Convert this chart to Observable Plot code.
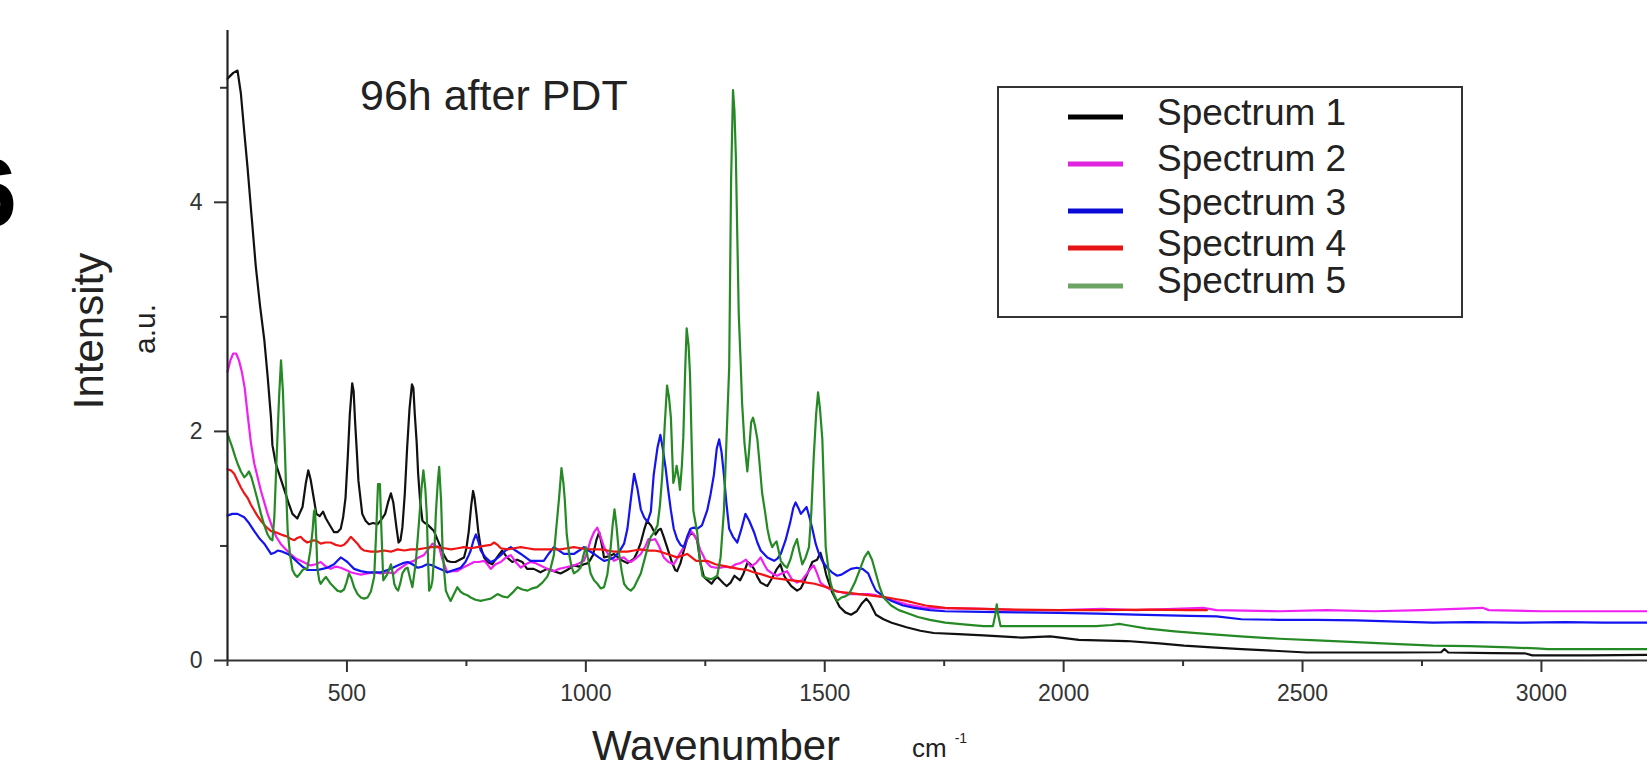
<!DOCTYPE html>
<html>
<head>
<meta charset="utf-8">
<script src="https://cdn.jsdelivr.net/npm/d3@7"></script>
<script src="https://cdn.jsdelivr.net/npm/@observablehq/plot@0.6"></script>
<style>
  html, body { margin: 0; padding: 0; background: #fff; }
  #wrap { position: relative; width: 1647px; height: 770px; overflow: hidden; }
</style>
</head>
<body>
<div id="wrap"></div>
<script>
// ---- tick values ----
const xMajorTicks = [500, 1000, 1500, 2000, 2500, 3000];
const xMinorTicks = [250, 750, 1250, 1750, 2250, 2750];
const yMajorTicks = [0, 2, 4];
const yMinorTicks = [1, 3, 5];

// ---- series labels & colours ----
const seriesNames = ["Spectrum 1", "Spectrum 2", "Spectrum 3", "Spectrum 4", "Spectrum 5"];
const lineColors = ["#111111", "#f020f0", "#1414f0", "#f01414", "#258a25"];
const swatchColors = ["#000000", "#e024e0", "#0a0ad8", "#e81212", "#6aa661"];

// ---- data: [wavenumber (cm-1), intensity (a.u.)] ----
const spectrum1 = [[250,5.08],[262,5.13],[271,5.15],[278,4.95],[285,4.62],[292,4.30],[300,3.90],[309,3.45],[318,3.10],[327,2.80],[334,2.48],[341,2.12],[344,1.88],[351,1.72],[358,1.63],[365,1.54],[372,1.45],[379,1.36],[386,1.28],[396,1.24],[407,1.34],[414,1.55],[419,1.66],[424,1.58],[428,1.48],[436,1.28],[443,1.26],[450,1.30],[456,1.24],[463,1.19],[473,1.12],[480,1.12],[487,1.15],[492,1.25],[497,1.42],[502,1.80],[506,2.15],[511,2.42],[514,2.35],[517,2.09],[521,1.80],[524,1.57],[532,1.28],[539,1.22],[546,1.19],[555,1.20],[564,1.19],[572,1.23],[580,1.28],[586,1.38],[592,1.46],[597,1.38],[600,1.28],[604,1.15],[608,1.03],[612,1.05],[616,1.16],[621,1.45],[626,1.86],[631,2.20],[636,2.41],[639,2.38],[642,2.15],[646,1.90],[649,1.63],[653,1.40],[658,1.22],[663,1.20],[668,1.19],[675,1.16],[682,1.13],[689,1.06],[696,0.99],[703,0.92],[710,0.87],[718,0.86],[727,0.86],[736,0.88],[745,0.90],[750,0.98],[755,1.13],[760,1.35],[764,1.48],[767,1.42],[771,1.28],[775,1.12],[780,0.99],[787,0.90],[794,0.86],[804,0.84],[814,0.90],[825,0.96],[835,0.90],[846,0.86],[856,0.88],[867,0.86],[877,0.80],[891,0.80],[905,0.77],[919,0.80],[933,0.78],[947,0.76],[961,0.79],[975,0.83],[986,0.82],[996,0.84],[1005,0.85],[1015,0.92],[1022,1.05],[1028,1.12],[1034,1.00],[1038,0.90],[1048,0.91],[1059,0.93],[1073,0.88],[1087,0.85],[1101,0.89],[1108,0.95],[1115,1.03],[1122,1.14],[1128,1.22],[1136,1.18],[1146,1.10],[1152,1.14],[1157,1.15],[1163,1.08],[1170,0.99],[1180,0.86],[1187,0.79],[1191,0.78],[1198,0.85],[1205,0.96],[1212,1.06],[1219,1.11],[1226,1.10],[1233,1.05],[1240,0.85],[1247,0.73],[1255,0.70],[1263,0.67],[1270,0.71],[1275,0.73],[1282,0.70],[1289,0.67],[1295,0.65],[1303,0.68],[1311,0.74],[1317,0.72],[1323,0.70],[1330,0.76],[1339,0.86],[1345,0.84],[1352,0.80],[1359,0.73],[1366,0.68],[1375,0.66],[1380,0.65],[1390,0.72],[1400,0.80],[1407,0.84],[1415,0.74],[1421,0.70],[1430,0.65],[1442,0.61],[1450,0.63],[1456,0.68],[1465,0.77],[1474,0.86],[1484,0.88],[1491,0.94],[1497,0.86],[1503,0.75],[1515,0.60],[1531,0.47],[1543,0.42],[1555,0.40],[1567,0.43],[1578,0.50],[1587,0.54],[1595,0.50],[1607,0.40],[1623,0.36],[1640,0.33],[1671,0.29],[1700,0.26],[1728,0.24],[1780,0.23],[1832,0.22],[1912,0.20],[1972,0.21],[2032,0.18],[2132,0.17],[2200,0.15],[2252,0.13],[2310,0.115],[2372,0.10],[2440,0.085],[2508,0.07],[2600,0.07],[2700,0.07],[2790,0.072],[2797,0.10],[2805,0.07],[2900,0.065],[2965,0.063],[2981,0.045],[3100,0.045],[3222,0.05]];

const spectrum2 = [[250,2.52],[256,2.62],[262,2.68],[268,2.68],[274,2.62],[280,2.52],[286,2.38],[292,2.15],[299,1.90],[306,1.72],[313,1.60],[320,1.48],[327,1.38],[334,1.28],[344,1.16],[352,1.08],[361,1.02],[372,0.97],[382,0.93],[393,0.89],[403,0.87],[414,0.85],[424,0.83],[435,0.84],[445,0.86],[456,0.82],[466,0.80],[477,0.82],[487,0.81],[498,0.79],[508,0.77],[518,0.76],[529,0.75],[543,0.76],[557,0.77],[571,0.76],[585,0.77],[599,0.76],[606,0.79],[613,0.81],[627,0.85],[640,0.87],[650,0.90],[661,0.92],[670,0.97],[679,1.02],[686,1.00],[693,0.99],[700,0.88],[710,0.77],[720,0.78],[731,0.78],[742,0.81],[752,0.83],[766,0.86],[776,0.86],[787,0.87],[794,0.84],[801,0.80],[811,0.84],[822,0.86],[833,0.90],[843,0.92],[853,0.86],[864,0.81],[874,0.84],[884,0.86],[895,0.85],[905,0.83],[919,0.80],[933,0.78],[944,0.80],[954,0.81],[965,0.82],[975,0.83],[986,0.85],[996,0.87],[1003,0.95],[1010,1.05],[1017,1.12],[1024,1.16],[1031,1.08],[1038,0.99],[1048,0.92],[1059,0.87],[1069,0.89],[1080,0.90],[1087,0.87],[1094,0.86],[1104,0.89],[1115,0.93],[1125,1.00],[1131,1.06],[1136,1.05],[1145,1.06],[1153,1.00],[1163,0.90],[1173,0.86],[1184,0.84],[1195,0.92],[1205,0.99],[1214,1.08],[1220,1.13],[1226,1.10],[1233,1.05],[1240,0.96],[1244,0.93],[1252,0.86],[1261,0.82],[1272,0.81],[1282,0.81],[1293,0.82],[1303,0.81],[1314,0.84],[1324,0.85],[1335,0.88],[1345,0.82],[1356,0.85],[1366,0.90],[1373,0.84],[1380,0.79],[1390,0.76],[1400,0.74],[1410,0.76],[1421,0.78],[1431,0.71],[1442,0.68],[1452,0.70],[1463,0.76],[1470,0.80],[1477,0.83],[1484,0.76],[1491,0.68],[1500,0.65],[1512,0.62],[1531,0.60],[1551,0.58],[1571,0.58],[1591,0.58],[1607,0.57],[1623,0.55],[1647,0.52],[1671,0.49],[1711,0.46],[1760,0.455],[1832,0.45],[1900,0.44],[1992,0.44],[2080,0.45],[2150,0.44],[2232,0.45],[2292,0.46],[2320,0.44],[2452,0.43],[2550,0.44],[2650,0.43],[2750,0.44],[2877,0.46],[2890,0.44],[3000,0.43],[3100,0.43],[3222,0.43]];

const spectrum3 = [[250,1.265],[260,1.28],[271,1.28],[285,1.25],[295,1.20],[306,1.13],[316,1.07],[327,1.02],[341,0.93],[348,0.94],[355,0.96],[365,0.95],[376,0.93],[386,0.90],[396,0.86],[407,0.82],[417,0.79],[428,0.79],[438,0.79],[449,0.80],[459,0.81],[473,0.84],[480,0.87],[487,0.90],[494,0.88],[501,0.86],[508,0.83],[515,0.80],[529,0.78],[543,0.77],[557,0.77],[571,0.77],[585,0.79],[596,0.81],[606,0.83],[617,0.85],[627,0.86],[637,0.84],[648,0.81],[658,0.82],[668,0.84],[679,0.83],[689,0.81],[700,0.79],[710,0.77],[724,0.79],[738,0.81],[748,0.86],[755,0.92],[759,0.96],[765,1.05],[770,1.10],[775,1.04],[780,0.96],[790,0.90],[801,0.86],[811,0.88],[822,0.92],[832,0.96],[843,0.99],[853,0.96],[864,0.93],[874,0.90],[884,0.87],[898,0.87],[912,0.87],[922,0.93],[933,0.99],[944,0.96],[954,0.93],[965,0.93],[975,0.93],[986,0.96],[996,0.99],[1006,0.96],[1017,0.93],[1027,0.90],[1038,0.87],[1048,0.88],[1059,0.90],[1070,0.95],[1080,1.02],[1087,1.15],[1094,1.40],[1101,1.63],[1108,1.50],[1115,1.32],[1122,1.25],[1129,1.21],[1136,1.30],[1142,1.62],[1150,1.86],[1156,1.97],[1161,1.85],[1167,1.68],[1172,1.50],[1178,1.31],[1184,1.15],[1191,1.06],[1198,1.01],[1205,0.99],[1212,1.08],[1219,1.15],[1226,1.16],[1233,1.15],[1243,1.18],[1254,1.31],[1261,1.45],[1268,1.62],[1274,1.85],[1279,1.93],[1284,1.82],[1289,1.62],[1294,1.38],[1300,1.15],[1308,1.08],[1317,1.03],[1325,1.14],[1334,1.28],[1342,1.22],[1352,1.12],[1359,1.03],[1366,0.96],[1380,0.90],[1394,0.87],[1401,0.89],[1408,0.93],[1418,1.05],[1428,1.21],[1434,1.33],[1439,1.38],[1445,1.33],[1450,1.28],[1456,1.31],[1462,1.34],[1468,1.25],[1474,1.15],[1481,1.02],[1488,0.93],[1496,0.86],[1505,0.81],[1515,0.77],[1526,0.74],[1535,0.75],[1543,0.77],[1555,0.80],[1567,0.81],[1579,0.80],[1591,0.76],[1599,0.68],[1607,0.61],[1623,0.56],[1640,0.52],[1664,0.48],[1688,0.46],[1720,0.44],[1752,0.43],[1830,0.425],[1912,0.42],[1990,0.415],[2072,0.41],[2150,0.40],[2264,0.39],[2320,0.385],[2372,0.36],[2450,0.355],[2530,0.355],[2612,0.35],[2700,0.34],[2773,0.33],[2850,0.335],[2950,0.33],[3050,0.335],[3130,0.33],[3222,0.33]];

const spectrum4 = [[250,1.67],[257,1.66],[264,1.63],[271,1.57],[278,1.51],[285,1.46],[292,1.42],[299,1.36],[306,1.31],[313,1.26],[320,1.22],[330,1.17],[341,1.13],[351,1.12],[362,1.10],[369,1.09],[376,1.08],[383,1.06],[390,1.05],[396,1.07],[403,1.08],[410,1.05],[417,1.03],[424,1.04],[431,1.05],[438,1.04],[445,1.02],[455,1.03],[466,1.03],[476,1.01],[487,1.00],[494,1.01],[501,1.04],[508,1.08],[515,1.05],[522,1.02],[529,0.98],[536,0.96],[550,0.95],[564,0.95],[578,0.96],[592,0.95],[606,0.97],[620,0.96],[634,0.97],[648,0.97],[662,0.98],[676,0.99],[690,0.99],[704,0.98],[718,0.97],[732,0.98],[745,0.99],[759,0.98],[773,0.99],[787,1.00],[801,1.01],[808,1.03],[815,1.01],[822,0.98],[836,0.97],[850,0.98],[864,0.99],[878,0.98],[892,0.97],[905,0.97],[919,0.97],[933,0.97],[947,0.97],[961,0.98],[975,0.99],[989,0.98],[1003,0.97],[1017,0.97],[1031,0.97],[1045,0.96],[1059,0.95],[1073,0.95],[1087,0.95],[1101,0.96],[1115,0.97],[1129,0.96],[1143,0.96],[1156,0.95],[1170,0.93],[1191,0.90],[1212,0.93],[1231,0.87],[1254,0.87],[1271,0.84],[1296,0.82],[1320,0.80],[1338,0.79],[1351,0.77],[1370,0.75],[1391,0.72],[1411,0.71],[1431,0.70],[1450,0.69],[1463,0.68],[1479,0.67],[1495,0.65],[1511,0.63],[1526,0.60],[1551,0.59],[1571,0.58],[1591,0.57],[1611,0.56],[1631,0.55],[1651,0.535],[1671,0.52],[1691,0.50],[1711,0.48],[1730,0.47],[1752,0.46],[1790,0.455],[1832,0.45],[1900,0.445],[1990,0.44],[2080,0.44],[2180,0.445],[2260,0.44],[2300,0.44]];

const spectrum5 = [[250,1.98],[255,1.92],[260,1.86],[266,1.78],[271,1.72],[278,1.65],[285,1.60],[290,1.62],[295,1.65],[300,1.60],[306,1.51],[313,1.40],[320,1.28],[327,1.18],[334,1.10],[340,1.06],[344,1.05],[348,1.25],[351,1.57],[355,2.00],[358,2.30],[362,2.62],[366,2.35],[370,1.86],[373,1.45],[376,1.13],[381,0.92],[386,0.79],[391,0.75],[396,0.73],[402,0.76],[407,0.79],[412,0.80],[417,0.80],[423,0.95],[428,1.13],[431,1.30],[433,1.32],[436,1.05],[438,0.81],[442,0.70],[445,0.67],[450,0.70],[456,0.73],[461,0.70],[466,0.67],[473,0.64],[480,0.61],[487,0.60],[494,0.62],[499,0.68],[504,0.76],[509,0.72],[515,0.64],[522,0.58],[529,0.55],[536,0.54],[543,0.55],[550,0.60],[557,0.73],[561,1.10],[565,1.54],[569,1.54],[572,1.15],[576,0.70],[584,0.75],[592,0.84],[596,0.76],[599,0.67],[603,0.63],[607,0.61],[612,0.68],[616,0.76],[622,0.80],[627,0.81],[632,0.72],[637,0.64],[644,0.85],[651,1.22],[656,1.50],[660,1.66],[664,1.50],[667,1.28],[670,0.85],[672,0.61],[676,0.64],[679,0.70],[683,0.95],[686,1.28],[690,1.55],[693,1.69],[697,1.40],[700,0.99],[704,0.75],[707,0.61],[712,0.56],[717,0.52],[724,0.58],[731,0.64],[738,0.60],[745,0.58],[752,0.57],[759,0.55],[769,0.53],[780,0.52],[790,0.53],[801,0.54],[808,0.56],[815,0.58],[825,0.56],[836,0.55],[846,0.59],[857,0.64],[867,0.62],[878,0.61],[888,0.63],[898,0.64],[909,0.68],[919,0.73],[926,0.80],[933,0.92],[938,1.15],[944,1.42],[949,1.68],[953,1.55],[956,1.40],[960,1.10],[965,0.93],[970,0.82],[975,0.76],[982,0.78],[989,0.81],[995,0.92],[1000,0.99],[1005,0.88],[1010,0.76],[1017,0.70],[1024,0.67],[1031,0.63],[1038,0.64],[1045,0.75],[1052,0.99],[1056,1.18],[1060,1.32],[1064,1.18],[1069,0.95],[1075,0.78],[1080,0.67],[1087,0.63],[1094,0.61],[1101,0.64],[1108,0.70],[1115,0.76],[1122,0.87],[1129,0.98],[1136,1.08],[1143,1.12],[1150,1.18],[1155,1.35],[1160,1.62],[1165,2.05],[1170,2.40],[1174,2.30],[1178,2.12],[1183,1.55],[1187,1.62],[1190,1.70],[1194,1.60],[1197,1.49],[1201,1.70],[1204,1.95],[1208,2.55],[1211,2.90],[1215,2.75],[1218,2.50],[1222,1.80],[1225,1.31],[1233,1.12],[1238,0.90],[1244,0.74],[1252,0.72],[1261,0.71],[1268,0.72],[1275,0.74],[1282,0.90],[1289,1.31],[1295,2.00],[1300,2.56],[1304,4.19],[1308,4.98],[1311,4.80],[1314,4.40],[1317,3.70],[1320,3.03],[1324,2.60],[1327,2.25],[1332,1.90],[1338,1.65],[1342,1.85],[1346,2.08],[1350,2.12],[1354,2.05],[1359,1.93],[1364,1.70],[1369,1.46],[1375,1.30],[1380,1.15],[1385,1.05],[1390,0.99],[1395,1.02],[1399,1.04],[1404,0.95],[1408,0.87],[1415,0.83],[1421,0.81],[1428,0.88],[1435,0.99],[1442,1.06],[1447,0.95],[1453,0.84],[1460,0.90],[1467,0.99],[1472,1.30],[1477,1.78],[1482,2.15],[1486,2.34],[1490,2.20],[1495,1.93],[1499,1.40],[1502,0.99],[1507,0.82],[1512,0.68],[1519,0.58],[1526,0.52],[1535,0.55],[1543,0.56],[1551,0.58],[1563,0.68],[1575,0.81],[1583,0.90],[1591,0.95],[1599,0.88],[1607,0.76],[1615,0.64],[1623,0.55],[1639,0.48],[1655,0.44],[1675,0.41],[1695,0.38],[1720,0.355],[1752,0.33],[1790,0.315],[1832,0.30],[1852,0.30],[1857,0.40],[1860,0.49],[1863,0.40],[1868,0.30],[1930,0.30],[1992,0.30],[2068,0.30],[2100,0.31],[2116,0.32],[2130,0.31],[2172,0.28],[2232,0.255],[2292,0.235],[2370,0.21],[2452,0.19],[2530,0.175],[2612,0.16],[2690,0.145],[2773,0.13],[2850,0.125],[2933,0.115],[2990,0.105],[3013,0.10],[3100,0.10],[3222,0.10]];

const allSpectra = [spectrum1, spectrum2, spectrum3, spectrum4, spectrum5];

// ---- texts ----
const titleText = "96h after PDT";
const xTitle = "Wavenumber";
const yTitle = "Intensity";
const yUnit = "a.u.";
const xUnit = "cm";
const xUnitSup = "-1";
const panelLetter = "6";

const FONT = "'Liberation Sans', Arial, Helvetica, sans-serif";

const lineMarks = allSpectra.map((s, i) =>
  Plot.line(s, {x: d => d[0], y: d => d[1], stroke: lineColors[i], strokeWidth: 2.2, strokeLinejoin: "round"})
);

const chart = Plot.plot({
  width: 1647,
  height: 770,
  marginLeft: 227,
  marginRight: 0,
  marginTop: 30,
  marginBottom: 110,
  style: {fontFamily: FONT, fontSize: "23px", background: "white", color: "#333"},
  x: {domain: [250, 3222]},
  y: {domain: [0, 5.5]},
  marks: [
    Plot.axisX({ticks: xMajorTicks, tickSize: 12, tickPadding: 12, tickFormat: d => String(d), label: null, stroke: "#333", strokeWidth: 2, fill: "#333", fontSize: 23}),
    Plot.axisX({ticks: xMinorTicks, tickSize: 6, tickFormat: () => "", label: null, stroke: "#333", strokeWidth: 2}),
    Plot.axisY({ticks: yMajorTicks, tickSize: 13, tickPadding: 12, tickFormat: d => String(d), label: null, stroke: "#333", strokeWidth: 2, fill: "#333", fontSize: 23}),
    Plot.axisY({ticks: yMinorTicks, tickSize: 7, tickFormat: () => "", label: null, stroke: "#333", strokeWidth: 2}),
    ...lineMarks,
    Plot.ruleY([0], {stroke: "#333", strokeWidth: 2.2}),
    Plot.ruleX([250], {stroke: "#222", strokeWidth: 2.2})
  ]
});

document.getElementById("wrap").appendChild(chart);

// ---- annotations / legend drawn into the same SVG ----
const svg = d3.select(chart);
const g = svg.append("g").attr("font-family", FONT).attr("text-anchor", "start");

// panel letter clipped at left edge
g.append("text").attr("x", 17).attr("y", 226).attr("text-anchor", "end")
  .attr("font-size", 96).attr("font-weight", "bold").attr("fill", "#000").text(panelLetter);

// in-plot title
g.append("text").attr("x", 360).attr("y", 110).attr("text-anchor", "start")
  .attr("font-size", 43).attr("fill", "#222").text(titleText);

// x title and unit
g.append("text").attr("x", 716).attr("y", 760).attr("text-anchor", "middle")
  .attr("font-size", 42).attr("fill", "#222").text(xTitle);
const unit = g.append("text").attr("x", 912).attr("y", 757).attr("text-anchor", "start")
  .attr("font-size", 26).attr("fill", "#222");
unit.append("tspan").text(xUnit);
unit.append("tspan").attr("font-size", 14).attr("dx", 8).attr("dy", -14).text(xUnitSup);

// y title and unit
g.append("text").attr("transform", "translate(103,331) rotate(-90)").attr("text-anchor", "middle")
  .attr("font-size", 42).attr("fill", "#222").text(yTitle);
g.append("text").attr("transform", "translate(155,329) rotate(-90)").attr("text-anchor", "middle")
  .attr("font-size", 30).attr("fill", "#222").text(yUnit);

// legend
const legend = g.append("g");
legend.append("rect").attr("x", 998).attr("y", 87).attr("width", 464).attr("height", 230)
  .attr("fill", "white").attr("stroke", "#333").attr("stroke-width", 2);
const baselines = [125, 171, 215, 256, 293];
const swatchY = [117, 164, 211, 248, 286];
seriesNames.forEach((name, i) => {
  legend.append("line").attr("x1", 1068).attr("x2", 1123).attr("y1", swatchY[i]).attr("y2", swatchY[i])
    .attr("stroke", swatchColors[i]).attr("stroke-width", 5);
  legend.append("text").attr("x", 1157).attr("y", baselines[i]).attr("text-anchor", "start")
    .attr("font-size", 37).attr("fill", "#222").text(name);
});
</script>
</body>
</html>
